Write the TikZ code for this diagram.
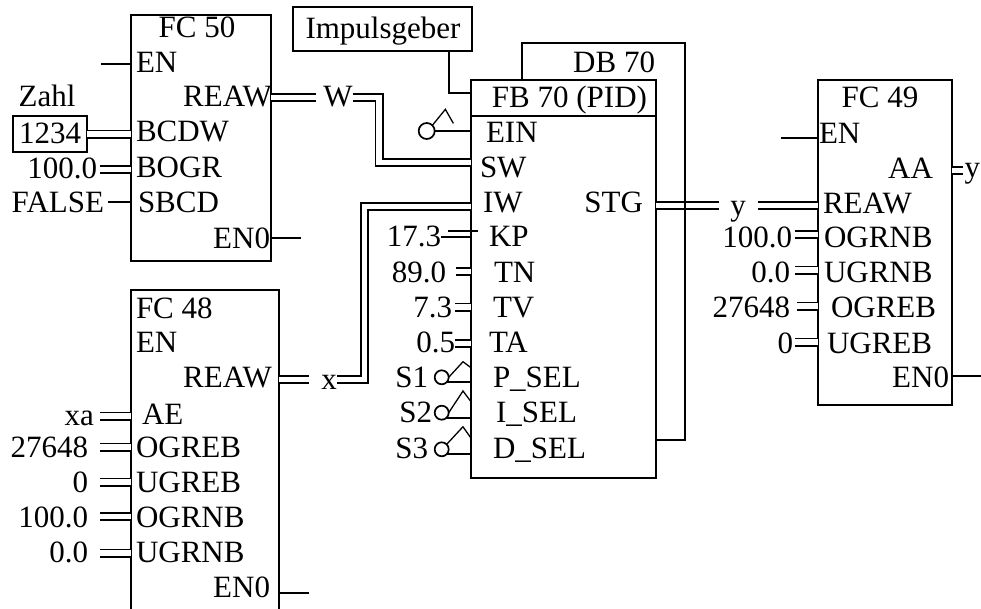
\documentclass[tikz,border=0pt]{standalone}
\usepackage{fontspec}
\setmainfont{Liberation Serif}
\usepackage{tikz}
\usetikzlibrary{positioning}
\tikzset{
  blockbox/.style={draw, line width=1.7pt, inner sep=0pt, outer sep=0pt, anchor=north west},
  txt/.style={font=\fontsize{31}{31}\selectfont, inner sep=0pt, outer sep=0pt, text height=20pt, text depth=0pt},
  pinl/.style={txt, anchor=west},
  pinr/.style={txt, anchor=east},
  wire/.style={line width=1.7pt},
  bus/.style={double, line width=1.9pt, double distance=5.2pt},
  contact/.style={line width=1.3pt},
  sensor/.style={draw, circle, line width=1.7pt, inner sep=0pt, minimum size=14pt, outer sep=0pt},
}
\begin{document}
\begin{tikzpicture}[x=1pt, y=-1pt]
  \useasboundingbox (0,0) rectangle (981,608);

  % blocks
  \node[blockbox, minimum width=140pt, minimum height=246pt] (fc50) at (131,15) {};
  \node[blockbox, minimum width=148pt, minimum height=322pt] (fc48) at (131,290) {};
  \node[blockbox, minimum width=185pt, minimum height=398pt] (fb70) at (471,80) {};
  \node[blockbox, minimum width=134pt, minimum height=325pt] (fc49) at (818,80) {};
  \node[blockbox, minimum width=179pt, minimum height=44pt] (impuls) at (293,7) {};
  \node[blockbox, minimum width=74pt, minimum height=36pt] (zahlbox) at (13,116) {};
  \node[txt] (impulstxt) at (383,28) {Impulsgeber};
  \node[txt] (zahlval) at (50,133) {1234};
  \node[txt] (zahl) at (47,96) {Zahl};

  % FC 50
  \node[txt] (fc50t) at (197,27) {FC 50};
  \node[pinl] (fc50en) at (136,62) {EN};
  \node[pinr] (fc50reaw) at (272,96) {REAW};
  \node[pinl] (fc50bcdw) at (136,131) {BCDW};
  \node[pinl] (fc50bogr) at (136,167) {BOGR};
  \node[pinl] (fc50sbcd) at (138,202) {SBCD};
  \node[pinr] (fc50eno) at (270,238) {EN0};
  \node[pinr] (vbogr) at (97,168) {100.0};
  \node[pinr] (vfalse) at (104,202) {FALSE};

  % FC 48
  \node[pinl] (fc48t) at (136,308) {FC 48};
  \node[pinl] (fc48en) at (136,342) {EN};
  \node[pinr] (fc48reaw) at (272,377) {REAW};
  \node[pinl] (fc48ae) at (142,414) {AE};
  \node[pinl] (fc48ogreb) at (136,447) {OGREB};
  \node[pinl] (fc48ugreb) at (136,482) {UGREB};
  \node[pinl] (fc48ogrnb) at (136,517) {OGRNB};
  \node[pinl] (fc48ugrnb) at (136,552) {UGRNB};
  \node[pinr] (fc48eno) at (270,587) {EN0};
  \node[pinr] (vxa) at (94,415) {xa};
  \node[pinr] (vogreb) at (88,447) {27648};
  \node[pinr] (vugreb) at (88,482) {0};
  \node[pinr] (vogrnb) at (88,517) {100.0};
  \node[pinr] (vugrnb) at (88,552) {0.0};

  % FB 70
  \node[pinr] (db70) at (655,62) {DB 70};
  \node[pinr] (fb70t) at (647,97) {FB 70 (PID)};
  \node[pinl] (fb70ein) at (486,132) {EIN};
  \node[pinl] (fb70sw) at (480,167) {SW};
  \node[pinl] (fb70iw) at (483,202) {IW};
  \node[pinr] (fb70stg) at (643,202) {STG};
  \node[pinl] (fb70kp) at (489,236) {KP};
  \node[pinl] (fb70tn) at (494,272) {TN};
  \node[pinl] (fb70tv) at (493,307) {TV};
  \node[pinl] (fb70ta) at (489,342) {TA};
  \node[pinl] (fb70psel) at (493,377) {P\_SEL};
  \node[pinl] (fb70isel) at (496,412) {I\_SEL};
  \node[pinl] (fb70dsel) at (493,448) {D\_SEL};
  \node[pinr] (vkp) at (441,236) {17.3};
  \node[pinr] (vtn) at (446,272) {89.0};
  \node[pinr] (vtv) at (452,307) {7.3};
  \node[pinr] (vta) at (455,342) {0.5};
  \node[pinr] (vsone) at (428,377) {S1};
  \node[pinr] (vstwo) at (432,412) {S2};
  \node[pinr] (vsthree) at (428,448) {S3};

  % FC 49
  \node[txt] (fc49t) at (880,97) {FC 49};
  \node[pinl] (fc49en) at (819,133) {EN};
  \node[pinr] (fc49aa) at (933,168) {AA};
  \node[pinl] (fc49reaw) at (823,203) {REAW};
  \node[pinl] (fc49ogrnb) at (824,237) {OGRNB};
  \node[pinl] (fc49ugrnb) at (824,272) {UGRNB};
  \node[pinl] (fc49ogreb) at (831,307) {OGREB};
  \node[pinl] (fc49ugreb) at (827,343) {UGREB};
  \node[pinr] (fc49eno) at (949,377) {EN0};
  \node[pinr] (vogrnbb) at (792,237) {100.0};
  \node[pinr] (vugrnbb) at (790,272) {0.0};
  \node[pinr] (vogrebb) at (790,307) {27648};
  \node[pinr] (vugrebb) at (793,343) {0};

  % signal names
  \node[txt] (sigw) at (338,96) {W};
  \node[txt] (sigx) at (329,379) {x};
  \node[txt] (sigy) at (738,205) {y};
  \node[pinr] (sigyout) at (980,167) {y};

  % free wire ends
  \coordinate (fc50enf) at (101,64);
  \coordinate (fc50enof) at (301,238);
  \coordinate (fc50wf) at (316,97.5);
  \coordinate (wstart) at (353,97.5);
  \coordinate (wbend) at (379,162.5);
  \coordinate (bogrf) at (100,169.5);
  \coordinate (falsef) at (108,202);
  \coordinate (fc48xf) at (309,379.5);
  \coordinate (fc48enof) at (309,593);
  \coordinate (xstart) at (337,379.5);
  \coordinate (xbend) at (364.5,206.5);
  \coordinate (xaf) at (100,416);
  \coordinate (ogrebf) at (100,447);
  \coordinate (ugrebf) at (100,482);
  \coordinate (ogrnbf) at (100,516.5);
  \coordinate (ugrnbf) at (100,553);
  \coordinate (impulsf) at (449,51);
  \coordinate (impulsb) at (449,93);
  \coordinate (headline) at (471,116);
  \coordinate (kptop) at (448,231);
  \coordinate (kptopend) at (478,231);
  \coordinate (kpbot) at (441,237);
  \coordinate (tnf) at (456,271.5);
  \coordinate (tvf) at (455,307);
  \coordinate (taf) at (455,343.5);
  \coordinate (stgf) at (719,205.5);
  \coordinate (yf) at (758,205.5);
  \coordinate (dbtop) at (522,43);
  \coordinate (dbright) at (685,440);
  \coordinate (fc49enf) at (781,137.7);
  \coordinate (fc49aaf) at (963,170.5);
  \coordinate (fc49ogrnbf) at (795,234.5);
  \coordinate (fc49ugrnbf) at (795,270);
  \coordinate (fc49ogrebf) at (797,306);
  \coordinate (fc49ugrebf) at (795,342);
  \coordinate (fc49enof) at (981,376);

  % FC 50 wires
  \draw[wire] (fc50enf) -- (fc50enf -| fc50.west);
  \draw[wire] (falsef) -- (falsef -| fc50.west);
  \draw[wire] (fc50enof) -- (fc50enof -| fc50.east);
  \draw[bus] (zahlbox) -- (zahlbox -| fc50.west);
  \draw[bus] (bogrf) -- (bogrf -| fc50.west);
  \draw[bus] (fc50wf) -- (fc50wf -| fc50.east);
  \draw[bus] (wstart) -| (wbend) -- (wbend -| fb70.west);

  % FC 48 wires
  \draw[wire] (fc48enof) -- (fc48enof -| fc48.east);
  \draw[bus] (fc48xf) -- (fc48xf -| fc48.east);
  \draw[bus] (xstart) -| (xbend) -- (xbend -| fb70.west);
  \draw[bus] (xaf) -- (xaf -| fc48.west);
  \draw[bus] (ogrebf) -- (ogrebf -| fc48.west);
  \draw[bus] (ugrebf) -- (ugrebf -| fc48.west);
  \draw[bus] (ogrnbf) -- (ogrnbf -| fc48.west);
  \draw[bus] (ugrnbf) -- (ugrnbf -| fc48.west);

  % FB 70 wires
  \draw[wire] (impulsf) -- (impulsb) -- (impulsb -| fb70.west);
  \draw[wire] (headline) -- (headline -| fb70.east);
  \draw[wire] (kptop) -- (kptopend);
  \draw[wire] (kpbot) -- (kpbot -| fb70.west);
  \draw[bus] (tnf) -- (tnf -| fb70.west);
  \draw[bus] (tvf) -- (tvf -| fb70.west);
  \draw[bus] (taf) -- (taf -| fb70.west);
  \draw[bus] (stgf) -- (stgf -| fb70.east);

  % FC 49 wires
  \draw[bus] (yf) -- (yf -| fc49.west);
  \draw[wire] (fc49enf) -- (fc49enf -| fc49.west);
  \draw[bus] (fc49aaf) -- (fc49aaf -| fc49.east);
  \draw[bus] (fc49ogrnbf) -- (fc49ogrnbf -| fc49.west);
  \draw[bus] (fc49ugrnbf) -- (fc49ugrnbf -| fc49.west);
  \draw[bus] (fc49ogrebf) -- (fc49ogrebf -| fc49.west);
  \draw[bus] (fc49ugrebf) -- (fc49ugrebf -| fc49.west);
  \draw[wire] (fc49enof) -- (fc49enof -| fc49.east);

  % DB 70 loop
  \draw[wire] (dbtop |- fb70.north) -- (dbtop) -| (dbright) -- (dbright -| fb70.east);

  % switches
  \node[sensor, minimum size=16pt] (swein) at (426.7,131) {};
  \node[sensor] (swone) at (441.7,377.3) {};
  \node[sensor] (swtwo) at (441.7,412.7) {};
  \node[sensor] (swthree) at (441.7,449.3) {};
  \draw[wire] (swein.east) -- (swein.east -| fb70.west);
  \draw[contact] (swein.north east) -- ++(13,-16) -- ++(8,14);
  \draw[wire] (swone.south east) -- (swone.south east -| fb70.west);
  \draw[contact] (swone.east) -- ++(14.3,-15.6) -- ++(8,6);
  \draw[wire] (swtwo.south east) -- (swtwo.south east -| fb70.west);
  \draw[contact] (swtwo.east) -- ++(14.3,-21.7) -- ++(8,10.7);
  \draw[wire] (swthree.south east) -- (swthree.south east -| fb70.west);
  \draw[contact] (swthree.north east) -- ++(16.3,-17.6) -- ++(8,11.3);
\end{tikzpicture}
\end{document}
